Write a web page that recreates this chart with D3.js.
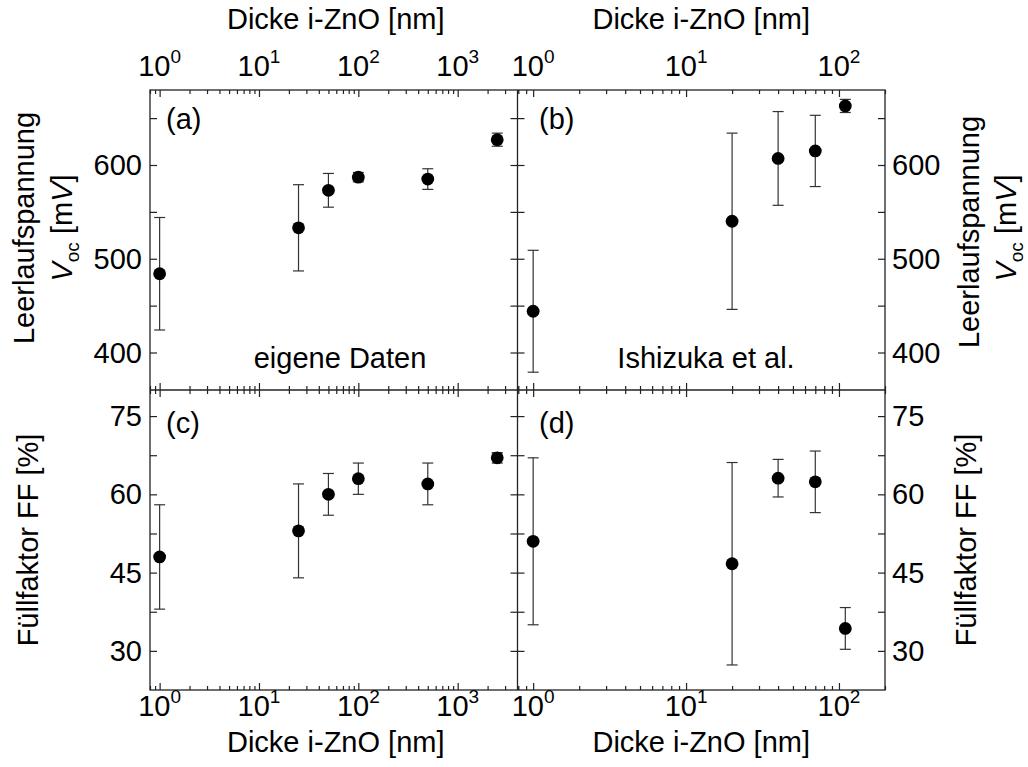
<!DOCTYPE html>
<html><head><meta charset="utf-8">
<script src="https://cdn.jsdelivr.net/npm/d3@7"></script>
<style>
body{margin:0;background:#fff}
text{font-family:"Liberation Sans",Arial,sans-serif;fill:#000}
</style></head>
<body><svg id="c" width="1028" height="767"></svg>
<script>
// ---- data ----
const thicknessOwn = [1, 25, 50, 100, 500, 2500];
const vocOwn       = [484, 533, 573, 587, 585, 627];
const vocOwnErr    = [60, 46, 18, 5, 11, 7];
const ffOwn        = [48, 53, 60, 63, 62, 67];
const ffOwnErr     = [10, 9, 4, 3, 4, 1];

const thicknessIsh = [1, 20, 40, 70, 110];
const vocIsh       = [444, 540, 607, 615, 663];
const vocIshErr    = [65, 94, 50, 38, 7];
const ffIsh        = [51, 46.7, 63.1, 62.4, 34.3];
const ffIshErr     = [16, 19.4, 3.6, 5.9, 4];

const xMajorLeft  = [1, 10, 100, 1000];
const xMajorRight = [1, 10, 100];
const vocTicks      = [400, 450, 500, 550, 600, 650];
const vocTickLabels = [400, 500, 600];
const ffTicks       = [30, 37.5, 45, 52.5, 60, 67.5, 75];
const ffTickLabels  = [30, 45, 60, 75];

const xTitle = "Dicke i-ZnO [nm]";
const panelLabels = ["(a)", "(b)", "(c)", "(d)"];
const sourceLabels = ["eigene Daten", "Ishizuka et al."];

// ---- layout ----
const L = 150, M = 517.5, R = 885, T = 90, MID = 390, B = 690;
const svg = d3.select("#c");
const FS = 29;

const xL = d3.scaleLog().domain([0.8, 4000]).range([L, M]);
const xR = d3.scaleLog().domain([0.79, 200]).range([M, R]);
const yV = d3.scaleLinear().domain([360, 680]).range([MID, T]);
const yF = d3.scaleLinear().domain([22.5, 80]).range([B, MID]);

const axisColor = "#222";

function minorTicks(x) {
  return x.ticks().filter(v => {
    const p = x(v); return p >= x.range()[0] - 0.5 && p <= x.range()[1] + 0.5;
  });
}

function xTicks(x, majors, yPos, dir) {
  // dir = -1 => ticks point up, +1 => down
  const all = minorTicks(x);
  const isMajor = v => majors.some(m => Math.abs(Math.log10(v) - Math.log10(m)) < 1e-6);
  const minors = all.filter(v => !isMajor(v));
  const gMin = svg.append("g").attr("transform", `translate(0,${yPos})`)
    .call(d3.axisBottom(x).tickValues(minors).tickFormat("").tickSize(4 * dir).tickSizeOuter(0));
  const gMaj = svg.append("g").attr("transform", `translate(0,${yPos})`)
    .call(d3.axisBottom(x).tickValues(majors).tickFormat("").tickSize(7 * dir).tickSizeOuter(0));
  [gMin, gMaj].forEach(g => {
    g.select(".domain").remove();
    g.selectAll("line").attr("stroke", axisColor).attr("stroke-width", 1.2);
  });
}

function yTicks(y, vals, xPos, dir) {
  const g = svg.append("g").attr("transform", `translate(${xPos},0)`)
    .call(d3.axisRight(y).tickValues(vals).tickFormat("").tickSize(7 * dir).tickSizeOuter(0));
  g.select(".domain").remove();
  g.selectAll("line").attr("stroke", axisColor).attr("stroke-width", 1.2);
}

function xLabels(x, majors, baseline) {
  majors.forEach(v => {
    const t = svg.append("text").attr("x", x(v)).attr("y", baseline)
      .attr("text-anchor", "middle").attr("font-size", FS);
    t.append("tspan").text("10");
    t.append("tspan").attr("font-size", 19).attr("dy", -13).text(Math.round(Math.log10(v)));
  });
}

function yLabels(y, vals, xPos, anchor) {
  vals.forEach(v => {
    svg.append("text").attr("x", xPos).attr("y", y(v)).attr("dy", "0.35em")
      .attr("text-anchor", anchor).attr("font-size", FS).text(v);
  });
}

function series(x, y, xs, ys, es) {
  const g = svg.append("g");
  xs.forEach((xv, i) => {
    const px = x(xv), y1 = y(ys[i] + es[i]), y0 = y(ys[i] - es[i]);
    g.append("line").attr("x1", px).attr("x2", px).attr("y1", y1).attr("y2", y0)
      .attr("stroke", "#333").attr("stroke-width", 1.2);
    [y1, y0].forEach(yy => g.append("line").attr("x1", px - 5.5).attr("x2", px + 5.5)
      .attr("y1", yy).attr("y2", yy).attr("stroke", "#333").attr("stroke-width", 1.2));
  });
  g.selectAll("circle").data(xs).join("circle")
    .attr("cx", d => x(d)).attr("cy", (d, i) => y(ys[i])).attr("r", 6.4).attr("fill", "#000");
}

// ---- frames ----
svg.append("rect").attr("x", L).attr("y", T).attr("width", R - L).attr("height", B - T)
  .attr("fill", "none").attr("stroke", axisColor).attr("stroke-width", 1.3);
svg.append("line").attr("x1", L).attr("x2", R).attr("y1", MID).attr("y2", MID)
  .attr("stroke", axisColor).attr("stroke-width", 1.3);
svg.append("line").attr("x1", M).attr("x2", M).attr("y1", T).attr("y2", B)
  .attr("stroke", axisColor).attr("stroke-width", 1.3);

// x ticks
xTicks(xL, xMajorLeft, T, 1);
xTicks(xL, xMajorLeft, MID, -1);
xTicks(xL, xMajorLeft, MID, 1);
xTicks(xL, xMajorLeft, B, -1);
xTicks(xR, xMajorRight, T, 1);
xTicks(xR, xMajorRight, MID, -1);
xTicks(xR, xMajorRight, MID, 1);
xTicks(xR, xMajorRight, B, -1);

// y ticks
yTicks(yV, vocTicks, L, 1);
yTicks(yV, vocTicks, M, -1);
yTicks(yV, vocTicks, M, 1);
yTicks(yV, vocTicks, R, -1);
yTicks(yF, ffTicks, L, 1);
yTicks(yF, ffTicks, M, -1);
yTicks(yF, ffTicks, M, 1);
yTicks(yF, ffTicks, R, -1);

// tick labels
xLabels(xL, xMajorLeft, 76);
xLabels(xR, xMajorRight, 76);
xLabels(xL, xMajorLeft, 716);
xLabels(xR, xMajorRight, 716);
yLabels(yV, vocTickLabels, 142, "end");
yLabels(yF, ffTickLabels, 142, "end");
yLabels(yV, vocTickLabels, 892, "start");
yLabels(yF, ffTickLabels, 892, "start");

// axis titles
[[(L + M) / 2 + 2, 29], [(M + R) / 2, 29], [(L + M) / 2 + 2, 752], [(M + R) / 2, 752]].forEach(([x, y]) =>
  svg.append("text").attr("x", x).attr("y", y).attr("text-anchor", "middle").attr("font-size", FS).text(xTitle));

function rotTitle(x, y, build) {
  const t = svg.append("text").attr("transform", `translate(${x},${y}) rotate(-90)`)
    .attr("text-anchor", "middle").attr("font-size", FS);
  build(t);
}
function vocTitle(t) {
  t.append("tspan").attr("font-style", "italic").text("V");
  t.append("tspan").attr("font-size", 19).attr("dy", 7).text("oc");
  t.append("tspan").attr("dy", -7).text(" [m");
  t.append("tspan").attr("font-style", "italic").text("V");
  t.append("tspan").text("]");
}
rotTitle(34, 228, t => t.text("Leerlaufspannung"));
rotTitle(72, 228, vocTitle);
rotTitle(979, 232, t => t.text("Leerlaufspannung"));
rotTitle(1016, 228, vocTitle);
rotTitle(38, 540, t => t.text("Füllfaktor FF [%]"));
rotTitle(976, 540, t => t.text("Füllfaktor FF [%]"));

// panel labels
[[166, 129], [539, 129], [166, 433], [539, 433]].forEach(([x, y], i) =>
  svg.append("text").attr("x", x).attr("y", y).attr("font-size", FS).text(panelLabels[i]));
svg.append("text").attr("x", 340).attr("y", 368).attr("text-anchor", "middle").attr("font-size", FS).text(sourceLabels[0]);
svg.append("text").attr("x", 706).attr("y", 368).attr("text-anchor", "middle").attr("font-size", FS).text(sourceLabels[1]);

// data
series(xL, yV, thicknessOwn, vocOwn, vocOwnErr);
series(xR, yV, thicknessIsh, vocIsh, vocIshErr);
series(xL, yF, thicknessOwn, ffOwn, ffOwnErr);
series(xR, yF, thicknessIsh, ffIsh, ffIshErr);
</script></body></html>
